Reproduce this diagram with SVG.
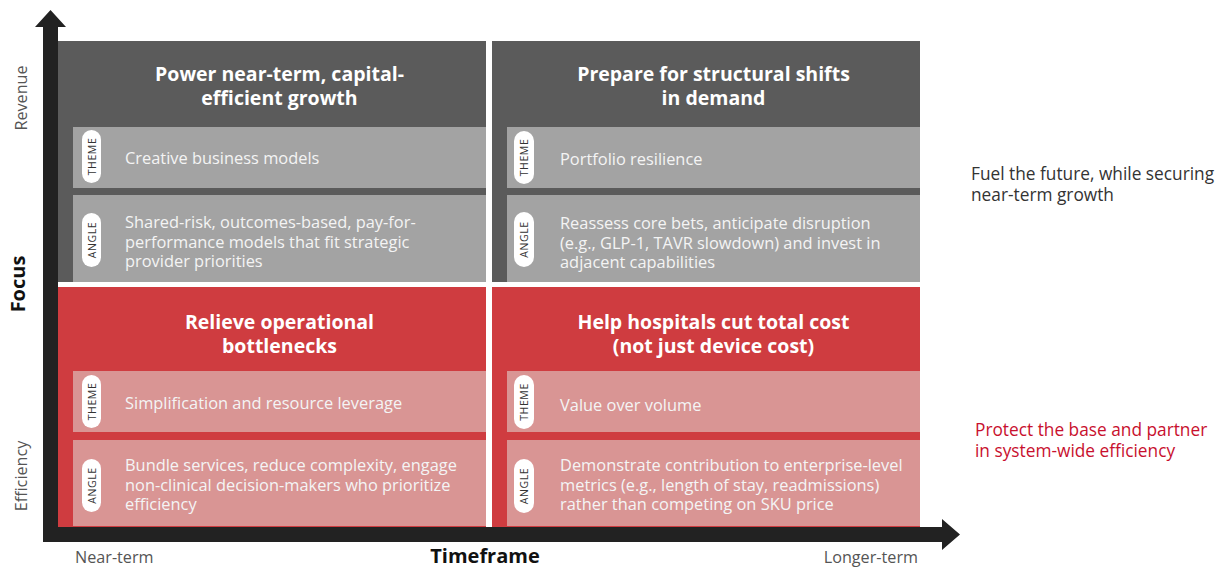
<svg xmlns="http://www.w3.org/2000/svg" width="1228" height="568" viewBox="0 0 1228 568">
  <style>
    text { font-family: "Open Sans", "Noto Sans", "Liberation Sans", sans-serif; }
    .dark { fill: #5b5b5b; }
    .red { fill: #cf3c40; }
    .gband { fill: #a3a3a3; }
    .rband { fill: #d99594; }
    .title { font-size: 19.5px; font-weight: 700; fill: #ffffff; text-anchor: middle; }
    .body { font-size: 16.4px; fill: #f4f4f4; }
    .pill { fill: #ffffff; }
    .tag { font-size: 10.5px; fill: #333333; text-anchor: middle; letter-spacing: 0.6px; }
    .axislbl { font-size: 16.2px; fill: #555555; }
    .axisttl { font-size: 20px; font-weight: 700; fill: #111111; }
    .side { font-size: 17.3px; }
    .axis { fill: #222222; }
  </style>

  <!-- axes -->
  <g id="connectors">
    <path class="axis" d="M43,27 L35,27 L50.5,10 L66,27 L58,27 L58,527 L942,527 L942,519 L960,534.5 L942,550 L942,542 L43,542 Z"/>
  </g>

  <!-- top-left quadrant -->
  <g id="q-near-revenue">
    <rect class="dark" x="58" y="41" width="428" height="241"/>
    <text class="title" x="279.5" y="81">Power near-term, capital-</text>
    <text class="title" x="279.5" y="105">efficient growth</text>
    <rect class="gband" x="73" y="127" width="413" height="61"/>
    <rect class="pill" x="82" y="130" width="19" height="53" rx="9.5"/>
    <text class="tag" transform="translate(95.8,156.5) rotate(-90)">THEME</text>
    <text class="body" x="125" y="163.5">Creative business models</text>
    <rect class="gband" x="73" y="195" width="413" height="87"/>
    <rect class="pill" x="82" y="213" width="19" height="54" rx="9.5"/>
    <text class="tag" transform="translate(95.8,240) rotate(-90)">ANGLE</text>
    <text class="body" x="125" y="228">Shared-risk, outcomes-based, pay-for-</text>
    <text class="body" x="125" y="247.5">performance models that fit strategic</text>
    <text class="body" x="125" y="267">provider priorities</text>
  </g>

  <!-- top-right quadrant -->
  <g id="q-long-revenue">
    <rect class="dark" x="492" y="41" width="428" height="241"/>
    <text class="title" x="713.5" y="81">Prepare for structural shifts</text>
    <text class="title" x="713.5" y="105">in demand</text>
    <rect class="gband" x="507" y="127" width="413" height="61"/>
    <rect class="pill" x="514" y="131" width="20" height="53" rx="10"/>
    <text class="tag" transform="translate(527.8,157.5) rotate(-90)">THEME</text>
    <text class="body" x="560" y="164.5">Portfolio resilience</text>
    <rect class="gband" x="507" y="195" width="413" height="87"/>
    <rect class="pill" x="514" y="212" width="20" height="55" rx="10"/>
    <text class="tag" transform="translate(527.8,239.5) rotate(-90)">ANGLE</text>
    <text class="body" x="560" y="229">Reassess core bets, anticipate disruption</text>
    <text class="body" x="560" y="248.5">(e.g., GLP-1, TAVR slowdown) and invest in</text>
    <text class="body" x="560" y="268">adjacent capabilities</text>
  </g>

  <!-- bottom-left quadrant -->
  <g id="q-near-efficiency">
    <rect class="red" x="58" y="287" width="428" height="240"/>
    <text class="title" x="279.5" y="329">Relieve operational</text>
    <text class="title" x="279.5" y="353">bottlenecks</text>
    <rect class="rband" x="73" y="371" width="413" height="61"/>
    <rect class="pill" x="82" y="375" width="19" height="53" rx="9.5"/>
    <text class="tag" transform="translate(95.8,401.5) rotate(-90)">THEME</text>
    <text class="body" x="125" y="409">Simplification and resource leverage</text>
    <rect class="rband" x="73" y="440" width="413" height="86"/>
    <rect class="pill" x="82" y="459" width="19" height="53" rx="9.5"/>
    <text class="tag" transform="translate(95.8,485.5) rotate(-90)">ANGLE</text>
    <text class="body" x="125" y="471">Bundle services, reduce complexity, engage</text>
    <text class="body" x="125" y="490.5">non-clinical decision-makers who prioritize</text>
    <text class="body" x="125" y="510">efficiency</text>
  </g>

  <!-- bottom-right quadrant -->
  <g id="q-long-efficiency">
    <rect class="red" x="492" y="287" width="428" height="240"/>
    <text class="title" x="713.5" y="329">Help hospitals cut total cost</text>
    <text class="title" x="713.5" y="353">(not just device cost)</text>
    <rect class="rband" x="507" y="371" width="413" height="61"/>
    <rect class="pill" x="514" y="375" width="20" height="54" rx="10"/>
    <text class="tag" transform="translate(527.8,402) rotate(-90)">THEME</text>
    <text class="body" x="560" y="411">Value over volume</text>
    <rect class="rband" x="507" y="440" width="413" height="86"/>
    <rect class="pill" x="514" y="459" width="20" height="54" rx="10"/>
    <text class="tag" transform="translate(527.8,486) rotate(-90)">ANGLE</text>
    <text class="body" x="560" y="471">Demonstrate contribution to enterprise-level</text>
    <text class="body" x="560" y="490.5">metrics (e.g., length of stay, readmissions)</text>
    <text class="body" x="560" y="510">rather than competing on SKU price</text>
  </g>

  <!-- axis labels -->
  <g id="axis-labels">
    <text class="axislbl" transform="translate(27,98) rotate(-90)" text-anchor="middle">Revenue</text>
    <text class="axislbl" transform="translate(27,476) rotate(-90)" text-anchor="middle">Efficiency</text>
    <text class="axisttl" transform="translate(25,284) rotate(-90)" text-anchor="middle">Focus</text>
    <text class="axislbl" x="75" y="563">Near-term</text>
    <text class="axisttl" x="485" y="562.5" text-anchor="middle">Timeframe</text>
    <text class="axislbl" x="918" y="563" text-anchor="end">Longer-term</text>
  </g>

  <!-- side notes -->
  <g id="note-revenue">
    <text class="side" x="971" y="180" fill="#333333">Fuel the future, while securing</text>
    <text class="side" x="971" y="201" fill="#333333">near-term growth</text>
  </g>
  <g id="note-efficiency">
    <text class="side" x="975" y="436" fill="#c8102e">Protect the base and partner</text>
    <text class="side" x="975" y="457" fill="#c8102e">in system-wide efficiency</text>
  </g>
</svg>
